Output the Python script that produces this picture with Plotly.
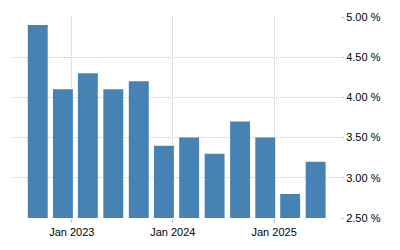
import plotly.graph_objects as go

dates = ["2022-08-31", "2022-11-30", "2023-02-28", "2023-05-31", "2023-08-31", "2023-11-30",
         "2024-02-29", "2024-05-31", "2024-08-31", "2024-11-30", "2025-02-28", "2025-05-31"]
values = [4.9, 4.1, 4.3, 4.1, 4.2, 3.4, 3.5, 3.3, 3.7, 3.5, 2.8, 3.2]

DAY_MS = 86400000
fig = go.Figure(go.Bar(x=dates, y=values, marker_color="#4682B4", marker_line_width=0,
                       width=[72 * DAY_MS] * len(values)))

font = dict(family="Liberation Sans, Arial, sans-serif", size=11, color="#000000")
fig.update_layout(
    width=400, height=250, margin=dict(l=12, r=60, t=17, b=32),
    paper_bgcolor="white", plot_bgcolor="white", showlegend=False, font=font,
    xaxis=dict(type="date", range=["2022-05-30", "2025-08-27"], tick0="2023-01-01", dtick="M12",
               tickformat="%b %Y", showgrid=True, gridcolor="#c8c8c8", griddash="1px,1px", gridwidth=1,
               ticks="outside", ticklen=4, tickcolor="#c8c8c8", showline=False, zeroline=False,
               tickfont=font),
    yaxis=dict(side="right", range=[2.5, 5.0], dtick=0.5, tick0=2.5, tickformat=".2f", ticksuffix=" %",
               showgrid=True, gridcolor="#c8c8c8", griddash="1px,1px", gridwidth=1,
               ticks="outside", ticklen=3, tickcolor="#c8c8c8", showline=False, zeroline=False,
               tickfont=font),
)
fig.write_html("out.html")
